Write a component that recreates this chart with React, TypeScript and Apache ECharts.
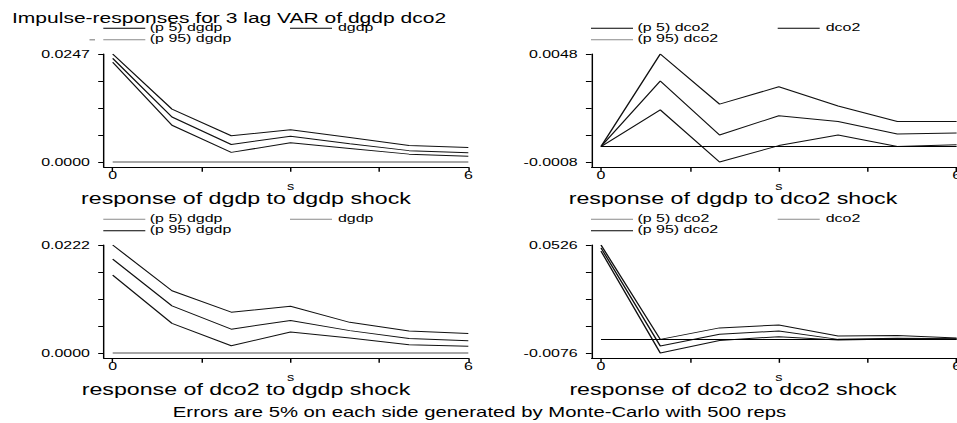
import { useEffect, useRef } from "react";
import * as echarts from "echarts";

// Horizontal stretch of the reference picture
const S = 1.45;
const W = 957 / S;
const H = 423;
const FONT = "'Liberation Sans', Arial, Helvetica, sans-serif";

const steps = [0, 1, 2, 3, 4, 5, 6];
const xTickValues = [0, 1.5, 3, 4.5, 6];
const xLabelValues = [0, 6];

// response of dgdp to dgdp shock
const dgdpDgdpP5 = [0.0228, 0.0084, 0.0022, 0.0044, 0.0031, 0.0018, 0.0013];
const dgdpDgdpIrf = [0.0237, 0.0103, 0.004, 0.0059, 0.0042, 0.0026, 0.0021];
const dgdpDgdpP95 = [0.0247, 0.0121, 0.006, 0.0074, 0.0056, 0.0038, 0.0033];

// response of dgdp to dco2 shock
const dgdpDco2P5 = [0, 0.0019, -0.0008, 0.00005, 0.0006, 0.0, 0.0001];
const dgdpDco2Irf = [0, 0.0034, 0.0006, 0.0016, 0.0013, 0.00065, 0.0007];
const dgdpDco2P95 = [0, 0.0048, 0.0022, 0.0031, 0.0021, 0.0013, 0.0013];

// response of dco2 to dgdp shock
const dco2DgdpP5 = [0.016, 0.0061, 0.0015, 0.0043, 0.0031, 0.0017, 0.0014];
const dco2DgdpIrf = [0.0193, 0.0097, 0.0049, 0.0067, 0.0046, 0.003, 0.0025];
const dco2DgdpP95 = [0.0222, 0.0128, 0.0084, 0.0096, 0.0063, 0.0045, 0.004];

// response of dco2 to dco2 shock
const dco2Dco2P5 = [0.0492, -0.0076, -0.0006, 0.0015, -0.0004, 0.0002, 0.0002];
const dco2Dco2Irf = [0.051, -0.0037, 0.0028, 0.0047, 0.0, 0.0006, 0.0004];
const dco2Dco2P95 = [0.0526, 0.0, 0.0064, 0.008, 0.0019, 0.0021, 0.0008];

// y-axis label values (bottom and top of each panel)
const yLow = [0, -0.0008, 0, -0.0076];
const yHigh = [0.0247, 0.0048, 0.0222, 0.0526];

const panelTitles = [
  "response of dgdp to dgdp shock",
  "response of dgdp to dco2 shock",
  "response of dco2 to dgdp shock",
  "response of dco2 to dco2 shock",
];
const responseNames = ["dgdp", "dco2", "dgdp", "dco2"];

const mainTitle = "Impulse-responses for 3 lag VAR of dgdp dco2";
const footNote = "Errors are 5% on each side generated by Monte-Carlo with 500 reps";

const GRAY = "#8a8a8a";
const panels = [
  { p5: dgdpDgdpP5, irf: dgdpDgdpIrf, p95: dgdpDgdpP95, axisX: 104, x0: 112.7, top: 54, titleX: 246, legend: ["#000", "#000", GRAY], zero: { c: GRAY, w: 1.6 }, dash: true },
  { p5: dgdpDco2P5, irf: dgdpDco2Irf, p95: dgdpDco2P95, axisX: 591.7, x0: 601, top: 54, titleX: 733, legend: ["#000", "#000", GRAY], zero: { c: "#000", w: 1 }, dash: false },
  { p5: dco2DgdpP5, irf: dco2DgdpIrf, p95: dco2DgdpP95, axisX: 104, x0: 112.7, top: 245, titleX: 246, legend: [GRAY, GRAY, "#000"], zero: { c: GRAY, w: 1.6 }, dash: false },
  { p5: dco2Dco2P5, irf: dco2Dco2Irf, p95: dco2Dco2P95, axisX: 591.7, x0: 601, top: 245, titleX: 733, legend: [GRAY, GRAY, "#000"], zero: { c: "#000", w: 1 }, dash: false },
];

const STEP_PX = 59.27; // final px per step
const SPAN = 108; // px between low and high y ticks
const AX_GAP = 5.3; // px between low tick and x axis line

export default function App() {
  const ref = useRef<HTMLDivElement>(null);
  useEffect(() => {
    if (!ref.current) return;
    const chart = echarts.init(ref.current, null, { renderer: "svg" });

    const grid: any[] = [];
    const xAxis: any[] = [];
    const yAxis: any[] = [];
    const series: any[] = [];
    const graphic: any[] = [];

    panels.forEach((p, i) => {
      const lo = yLow[i];
      const hi = yHigh[i];
      const x6 = p.x0 + 6 * STEP_PX;
      grid.push({
        left: p.axisX / S,
        top: p.top,
        width: (x6 - p.axisX) / S,
        height: SPAN + AX_GAP,
        containLabel: false,
        outerBoundsMode: "none",
      });
      xAxis.push({
        type: "value",
        gridIndex: i,
        min: -(p.x0 - p.axisX) / STEP_PX,
        max: 6,
        axisLine: { show: true, onZero: false, lineStyle: { color: "#000", width: 1 } },
        axisTick: { show: true, customValues: xTickValues, length: 4.5, lineStyle: { color: "#000", width: 1 } },
        axisLabel: { show: true, customValues: xLabelValues, margin: 2.5, fontSize: 11, color: "#000", fontFamily: FONT },
        splitLine: { show: false },
      });
      const yTicks = [0, 1, 2, 3, 4].map((k) => lo + ((hi - lo) * k) / 4);
      yAxis.push({
        type: "value",
        gridIndex: i,
        min: lo - ((hi - lo) * AX_GAP) / SPAN,
        max: hi,
        axisLine: { show: true, onZero: false, lineStyle: { color: "#000", width: 1 } },
        axisTick: { show: true, customValues: yTicks, length: 4, lineStyle: { color: "#000", width: 1 } },
        axisLabel: {
          show: true,
          customValues: [lo, hi],
          margin: 9.7,
          fontSize: 11,
          color: "#000",
          fontFamily: FONT,
          formatter: (v: number) => (Math.abs(v) < 1e-12 ? 0 : v).toFixed(4),
        },
        splitLine: { show: false },
      });
      const nm = responseNames[i];
      const mk = (name: string, arr: number[], extra: any = {}) => ({
        type: "line",
        name,
        xAxisIndex: i,
        yAxisIndex: i,
        data: steps.map((s, j) => [s, arr[j]]),
        symbol: "none",
        silent: true,
        lineStyle: { color: "#111", width: 1 },
        itemStyle: { color: "#111" },
        ...extra,
      });
      series.push(
        mk(`(p 5) ${nm}`, p.p5, {
          markLine: {
            silent: true,
            symbol: ["none", "none"],
            label: { show: false },
            lineStyle: { color: p.zero.c, width: p.zero.w, type: "solid" },
            data: [[{ coord: [0, 0] }, { coord: [6, 0] }]],
          },
        }),
        mk(nm, p.irf),
        mk(`(p 95) ${nm}`, p.p95)
      );

      // legend (drawn as graphic)
      const dy = p.top - 54;
      const lx = p.axisX - 0.7;
      const r1 = 28.3 + dy;
      const r2 = 39.8 + dy;
      const items = [
        { x: lx, y: r1, text: `(p 5) ${nm}`, c: p.legend[0] },
        { x: p.axisX + 186, y: r1, text: nm, c: p.legend[1] },
        { x: lx, y: r2, text: `(p 95) ${nm}`, c: p.legend[2] },
      ];
      items.forEach((it, k) => {
        graphic.push({
          type: "line",
          silent: true,
          shape: { x1: it.x / S, y1: it.y, x2: (it.x + 42) / S, y2: it.y },
          style: { stroke: it.c, lineWidth: 1 },
        });
        graphic.push({
          type: "text",
          silent: true,
          x: (it.x + (k === 1 ? 48 : 46.5)) / S,
          y: it.y - 1,
          style: { text: it.text, fontSize: 11, fontFamily: FONT, fill: "#000", align: "left", verticalAlign: "middle" },
        });
      });
      if (p.dash) {
        graphic.push({
          type: "line",
          silent: true,
          shape: { x1: 89.5 / S, y1: r2, x2: 95 / S, y2: r2 },
          style: { stroke: GRAY, lineWidth: 1.2 },
        });
      }
      // x-axis title "s"
      graphic.push({
        type: "text",
        silent: true,
        x: (p.x0 + 3 * STEP_PX) / S,
        y: 187 + dy,
        style: { text: "s", fontSize: 10, fontFamily: FONT, fill: "#000", align: "center", verticalAlign: "middle" },
      });
      // panel caption
      graphic.push({
        type: "text",
        silent: true,
        x: p.titleX / S,
        y: 198 + dy,
        style: { text: panelTitles[i], fontSize: 16, fontFamily: FONT, fill: "#000", align: "center", verticalAlign: "middle" },
      });
    });

    graphic.push({
      type: "text",
      silent: true,
      x: 12 / S,
      y: 18,
      style: { text: mainTitle, fontSize: 14.5, fontFamily: FONT, fill: "#000", align: "left", verticalAlign: "middle" },
    });
    graphic.push({
      type: "text",
      silent: true,
      x: 479.5 / S,
      y: 412,
      style: { text: footNote, fontSize: 14, fontFamily: FONT, fill: "#000", align: "center", verticalAlign: "middle" },
    });

    chart.setOption({
      animation: false,
      backgroundColor: "#fff",
      grid,
      xAxis,
      yAxis,
      series,
      graphic,
    });
    return () => chart.dispose();
  }, []);

  return (
    <div
      style={{
        position: "fixed",
        left: 0,
        top: 0,
        width: 957,
        height: H,
        overflow: "hidden",
        background: "#fff",
      }}
    >
      <div
        ref={ref}
        style={{
          width: W,
          height: H,
          transform: `scaleX(${S})`,
          transformOrigin: "0 0",
        }}
      />
    </div>
  );
}
